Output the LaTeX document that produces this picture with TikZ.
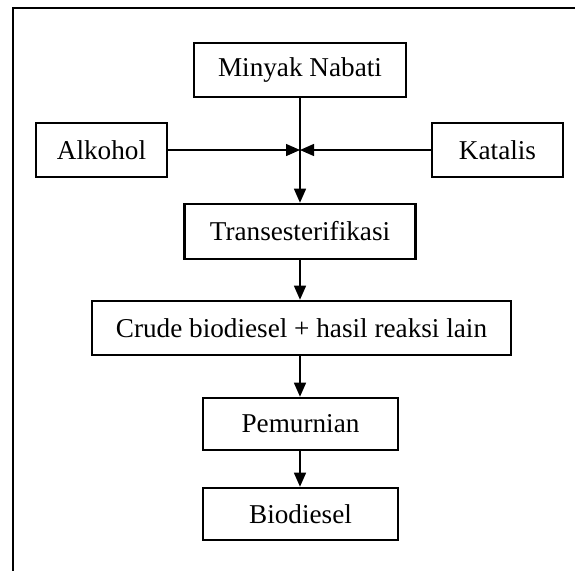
\documentclass[tikz,border=0pt]{standalone}
\usepackage{fontspec}
\setmainfont{Liberation Serif}
\usetikzlibrary{arrows.meta}
\begin{document}
\begin{tikzpicture}[x=1pt,y=-1pt,
  box/.style={draw=black, line width=2.6pt, minimum height=54pt, inner sep=0pt,
    font=\fontsize{27.2}{31}\selectfont},
  conn/.style={line width=1.4pt, -{Triangle[length=14pt,width=12pt]}}]
\useasboundingbox (0,0) rectangle (575,570);
\draw[line width=2.6pt] (13,571) -- (13,8) -- (576,8);
\node[box, minimum width=212pt] (minyak) at (300,70) {Minyak Nabati};
\node[box, minimum width=131pt] (alkohol) at (101.5,150) {Alkohol};
\node[box, minimum width=131pt] (katalis) at (497.5,150) {Katalis};
\node[box, minimum width=231pt, minimum height=55pt] (trans) at (300,231.5) {Transesterifikasi};
\node[box, minimum width=419pt] (crude) at (301.5,328) {Crude biodiesel + hasil reaksi lain};
\node[box, minimum width=195pt, minimum height=52pt] (pemurnian) at (300.5,424) {Pemurnian};
\node[box, minimum width=195pt, minimum height=52pt] (bio) at (300.5,514) {Biodiesel};
\coordinate (j) at (300,150);
\draw[conn] (minyak.south) -- (trans.north);
\draw[conn] (alkohol.east) -- (j);
\draw[conn] (katalis.west) -- (j);
\draw[conn] (trans.south) -- (trans.south |- crude.north);
\draw[conn] (trans.south |- crude.south) -- (trans.south |- pemurnian.north);
\draw[conn] (trans.south |- pemurnian.south) -- (trans.south |- bio.north);
\end{tikzpicture}
\end{document}
